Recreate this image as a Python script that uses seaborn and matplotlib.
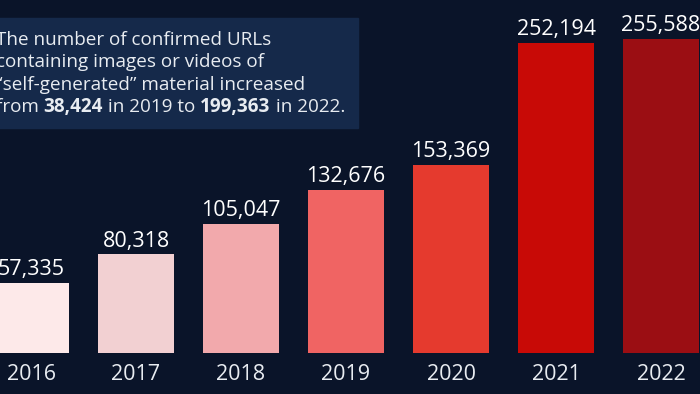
import matplotlib
matplotlib.use("Agg")
import matplotlib.pyplot as plt
from matplotlib.patches import Rectangle
import seaborn as sns
import pandas as pd

# Data
years = ['2016', '2017', '2018', '2019', '2020', '2021', '2022']
urls = [57335, 80318, 105047, 132676, 153369, 252194, 255588]
bar_colors = ['#fde9e9', '#f2d0d2', '#f2a9ac', '#f06463', '#e53a2e', '#c80a06', '#9b0e13']

note_lines = [
    [('The number of confirmed URLs', 'normal')],
    [('containing images or videos of', 'normal')],
    [('\u201cself-generated\u201d material increased', 'normal')],
    [('from ', 'normal'), ('38,424', 'bold'), (' in 2019 to ', 'normal'),
     ('199,363', 'bold'), (' in 2022.', 'normal')],
]

df = pd.DataFrame({'year': years, 'urls': urls})

bg = '#0a1429'
box_color = '#15294a'
txt = '#e8ecf1'

sns.set_style("dark")
plt.rcParams['font.family'] = ['Open Sans', 'DejaVu Sans']

W, H = 700, 394
fig = plt.figure(figsize=(7, 3.94), dpi=100, facecolor=bg)
ax = fig.add_axes([0, 0, 1, 1])
ax.set_facecolor(bg)

sns.barplot(data=df, x='year', y='urls', hue='year', palette=bar_colors,
            width=0.72, legend=False, ax=ax, saturation=1, linewidth=0,
            edgecolor='none')

# pixel layout: bar 0 centred at x=31px, 105px apart, baseline at y=353px
units_per_px = 814
ax.set_xlim((0 - 31) / 105, (W - 31) / 105)
ax.set_ylim(-(H - 353) * units_per_px, 353 * units_per_px)
ax.axis('off')

for cont in ax.containers:
    ax.bar_label(cont, labels=[f'{v:,.0f}' for v in cont.datavalues],
                 padding=2, color='white', fontsize=15.5)

for i, y in enumerate(years):
    ax.text(i, -(380 - 353) * units_per_px, y, ha='center', va='baseline',
            color=txt, fontsize=15.5)

# annotation box
fig.patches.append(Rectangle((-10 / W, 1 - 128 / H), 368 / W, 110 / H,
                             transform=fig.transFigure, color=box_color, zorder=0))
fig.canvas.draw()
renderer = fig.canvas.get_renderer()
baselines = [45, 67.3, 89.7, 112]
for line, base in zip(note_lines, baselines):
    x = -4
    for piece, weight in line:
        t = fig.text(x / W, 1 - base / H, piece, fontsize=13.6, fontweight=weight,
                     color=txt, ha='left', va='baseline')
        x += t.get_window_extent(renderer).width

fig.savefig('out.png', dpi=100, facecolor=bg)
